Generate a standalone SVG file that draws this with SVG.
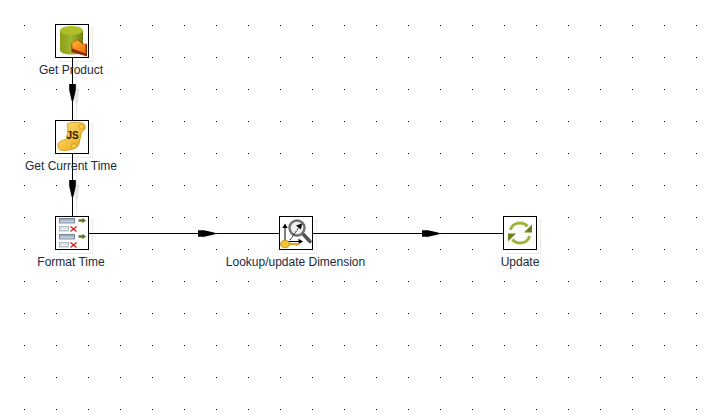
<svg xmlns="http://www.w3.org/2000/svg" width="713" height="418" viewBox="0 0 713 418">
<style>
.box{fill:#fff;stroke:#000;stroke-width:1}
.ghost{fill:none;stroke:#efebeb;stroke-width:1}
.lbl{font-family:"Liberation Sans",Arial,sans-serif;font-size:12px;fill:#1a2a40;text-anchor:middle}
.conn{fill:none;stroke:#000;stroke-width:1;marker-mid:url(#ah)}
.ghostline{fill:none;stroke:#e8e8e8;stroke-width:1}
</style>
<defs>
<pattern id="grid" x="24" y="25" width="32" height="32" patternUnits="userSpaceOnUse"><rect width="1" height="1" fill="#000"/></pattern>
<marker id="ah" markerUnits="userSpaceOnUse" markerWidth="18" markerHeight="8" refX="17" refY="4" orient="auto" overflow="visible"><path d="M0 .7H6L17 3.200V4.800L6 7.300H0Z" fill="#000"/></marker>
<linearGradient id="cyl" x1="0" x2="1" y1="0" y2="0"><stop offset="0" stop-color="#8c9e1c"/><stop offset=".5" stop-color="#a5b62e"/><stop offset="1" stop-color="#6f8012"/></linearGradient>
<linearGradient id="org" x1="0" x2="1" y1="0" y2="1"><stop offset="0" stop-color="#ffb52e"/><stop offset="1" stop-color="#f06a10"/></linearGradient>
<linearGradient id="gold" x1="0" x2="1" y1="0" y2="1"><stop offset="0" stop-color="#ffe27a"/><stop offset="1" stop-color="#eaa512"/></linearGradient>
<linearGradient id="bar" x1="0" x2="0" y1="0" y2="1"><stop offset="0" stop-color="#8d9dae"/><stop offset="1" stop-color="#dfe5ec"/></linearGradient>
<g id="redx"><path d="M0 0L6 5M6 0L0 5" stroke="#d3201c" stroke-width="1.400" fill="none"/></g>
<path id="grn" d="M0 1.500H4V0L7.500 2.700 4 5.400V4H0Z" fill="#5d7a1d"/>
</defs>
<rect x="24" y="25" width="673" height="385" fill="url(#grid)"/>
<g id="shadows">
<rect class="ghost" x="59.500" y="28.500" width="33" height="33"/>
<rect class="ghost" x="59.500" y="124.500" width="33" height="33"/>
<rect class="ghost" x="59.500" y="220.500" width="33" height="33"/>
<rect class="ghost" x="283.500" y="220.500" width="33" height="33"/>
<rect class="ghost" x="507.500" y="220.500" width="33" height="33"/>
<path class="ghostline" d="M76.500 61V124M76.500 157V220"/>
<path d="M73.500 88.500h6l-2 16h-2zM73.500 184.500h6l-2 16h-2z" fill="#e4e4e4"/>
<path d="M202 234.500h18l-16 3h-2zM426 234.500h18l-16 3h-2z" fill="#e4e4e4"/>
</g>
<g id="connectors">
<path class="conn" d="M72.500 57V101V120"/>
<path class="conn" d="M72.500 153V197V216"/>
<path class="conn" d="M88 233.500H215H279"/>
<path class="conn" d="M312 233.500H439H503"/>
</g>
<g id="get-product">
<rect class="box" x="55.500" y="24.500" width="33" height="33"/>
<path d="M60 30.500V50c0 3 5 4.500 11.500 4.500S83 53 83 50V30.500Z" fill="url(#cyl)"/>
<ellipse cx="71.500" cy="30.500" rx="11.500" ry="4.500" fill="#aebf2a"/>
<path d="M71.500 43V52L87 56.500V43.500L84.500 44.500 78.500 39.500Z" fill="#8e2e0a"/>
<path d="M72 43L78 40 83 44.500 85.500 43V53.500L72.500 48.500Z" fill="url(#org)"/>
<text class="lbl" x="71" y="74">Get Product</text>
</g>
<g id="get-current-time">
<rect class="box" x="55.500" y="120.500" width="33" height="33"/>
<path d="M67 124C71 121.500 80 121.500 84 124 87 128 84 131 81.500 132L79 144C77 149 70 150.500 62 150.500 57 149.500 57 144 59.500 142 62 140 65 140 66.500 139L68 128Z" fill="url(#gold)" stroke="#d09010" stroke-width=".8"/>
<circle cx="81.500" cy="126.500" r="2.600" fill="#f7c948" stroke="#c88a10" stroke-width=".6"/>
<circle cx="74" cy="146" r="2.600" fill="#f7c948" stroke="#c88a10" stroke-width=".6"/>
<text x="72.500" y="139" font-family="'Liberation Sans',Arial,sans-serif" font-size="10" font-weight="700" fill="#2a2000" text-anchor="middle">JS</text>
<text class="lbl" x="71" y="170">Get Current Time</text>
</g>
<g id="format-time">
<rect class="box" x="55.500" y="216.500" width="33" height="33"/>
<rect x="59.500" y="218.500" width="15" height="4.500" fill="url(#bar)" stroke="#5f7488" stroke-width=".8"/>
<rect x="59.500" y="226.500" width="9" height="4.500" fill="#dfe5ec" stroke="#9aa8b6" stroke-width=".8"/>
<rect x="59.500" y="234.500" width="15" height="4.500" fill="url(#bar)" stroke="#5f7488" stroke-width=".8"/>
<rect x="59.500" y="242.500" width="9" height="4.500" fill="#dfe5ec" stroke="#9aa8b6" stroke-width=".8"/>
<use href="#grn" x="78.500" y="217.800"/>
<use href="#grn" x="78.500" y="233.800"/>
<use href="#redx" x="70.500" y="226.500"/>
<use href="#redx" x="70.500" y="242.500"/>
<text class="lbl" x="71" y="266">Format Time</text>
</g>
<g id="lookup-update-dimension">
<rect class="box" x="279.500" y="216.500" width="33" height="33"/>
<path d="M303.500 234.500L310 241.500" stroke="#55524c" stroke-width="3.500" stroke-linecap="round" fill="none"/>
<circle cx="297" cy="228" r="7.500" fill="#eef1f2" stroke="#6b6f70" stroke-width="2.400"/>
<path d="M290 240L300 226" stroke="#000" stroke-width="1" stroke-dasharray="2 1" fill="none"/>
<path d="M302 223.500L301 229.500 296 225.500Z" fill="#000"/>
<path d="M285 242V226M285 241.500H300" stroke="#000" stroke-width="1" fill="none"/>
<path d="M285 223.500L287.700 228H282.300ZM303 241.500L298.500 238.800V244.200Z" fill="#000"/>
<path d="M288 243H299.500V245H297.500V246H295.500V245H288Z" fill="#e0a818"/>
<ellipse cx="285" cy="244" rx="4.500" ry="3.800" fill="#f3c432" stroke="#b88410" stroke-width=".8"/>
<text class="lbl" x="295.500" y="266">Lookup/update Dimension</text>
</g>
<g id="update">
<rect class="box" x="503.500" y="216.500" width="33" height="33"/>
<path d="M510.500 230C511.500 225.500 515.500 223 520 223 523.500 223 526 224.500 527.500 226.500" fill="none" stroke="#a3b23e" stroke-width="3"/>
<path d="M532 224.500V232.500H524Z" fill="#6f7f20"/>
<path d="M529.500 236C528.500 240.500 524.500 243 520 243 516.500 243 514 241.500 512.500 239.500" fill="none" stroke="#a3b23e" stroke-width="3"/>
<path d="M508 241.500V233.500H516Z" fill="#6f7f20"/>
<text class="lbl" x="520" y="266">Update</text>
</g>
</svg>
